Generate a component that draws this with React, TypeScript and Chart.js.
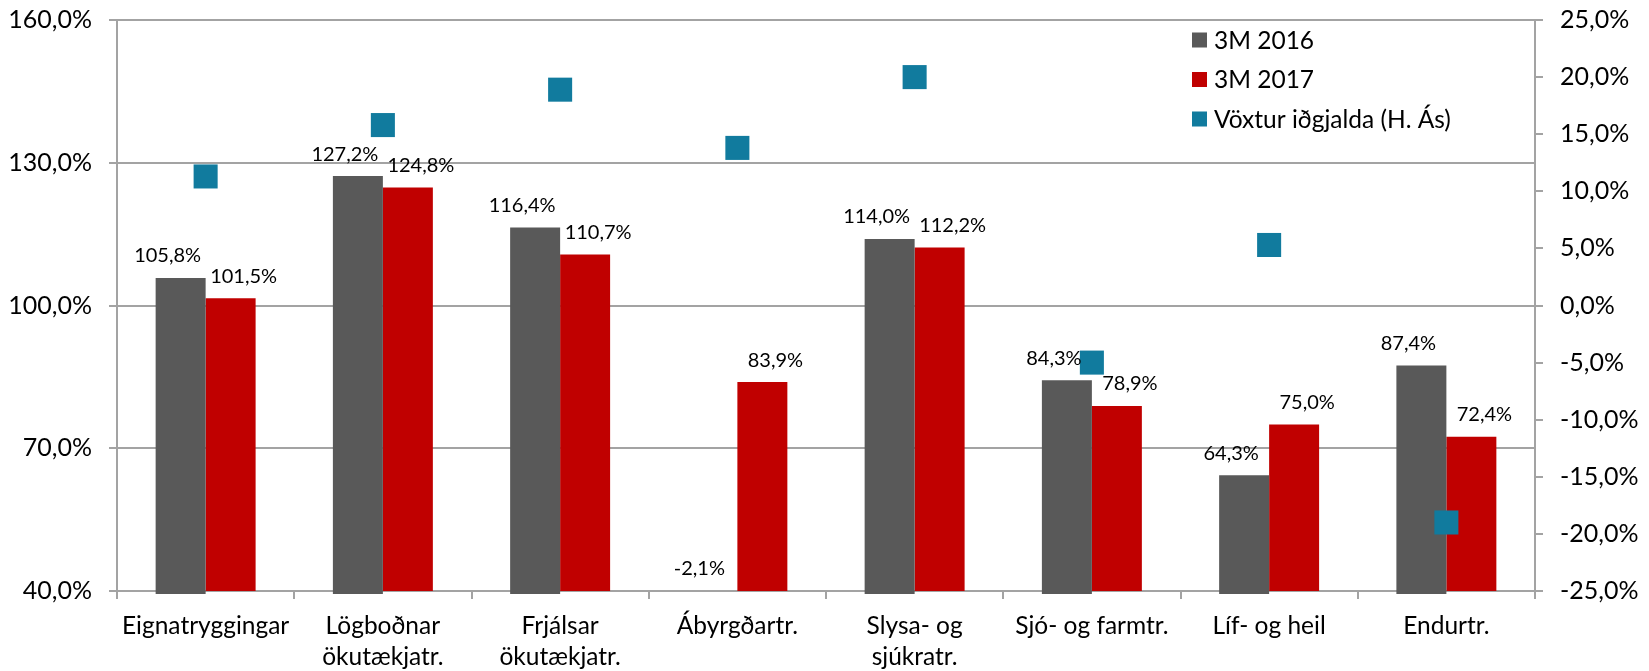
import React, { useEffect, useRef } from "react";
import { Chart, registerables } from "chart.js";

Chart.register(...registerables);

const categories: (string | string[])[] = [
  "Eignatryggingar",
  ["Lögboðnar", "ökutækjatr."],
  ["Frjálsar", "ökutækjatr."],
  "Ábyrgðartr.",
  ["Slysa- og", "sjúkratr."],
  "Sjó- og farmtr.",
  "Líf- og heil",
  "Endurtr.",
];

const series2016 = [105.8, 127.2, 116.4, -2.1, 114.0, 84.3, 64.3, 87.4];
const series2017 = [101.5, 124.8, 110.7, 83.9, 112.2, 78.9, 75.0, 72.4];
const growth = [11.3, 15.8, 18.9, 13.8, 20.0, -5.0, 5.3, -19.0];

const seriesLabels = ["3M 2016", "3M 2017", "Vöxtur iðgjalda (H. Ás)"];
const seriesColors = ["#595959", "#C00000", "#117B9E"];

const leftMin = 40, leftMax = 160, leftStep = 30;
const rightMin = -25, rightMax = 25, rightStep = 5;

const FONT = "Lato, 'Open Sans', sans-serif";
const GRID = "#A3A3A3";

const fmt = (v: number) => v.toFixed(1).replace(".", ",") + "%";

const barLabelPlugin = {
  id: "barLabels",
  afterDatasetsDraw(chart: any) {
    const ctx = chart.ctx;
    const yScale = chart.scales.y;
    const offsets = [-13, 13];
    ctx.save();
    ctx.font = `20px ${FONT}`;
    ctx.fillStyle = "#000";
    ctx.textAlign = "center";
    ctx.textBaseline = "middle";
    [0, 1].forEach((di) => {
      const meta = chart.getDatasetMeta(di);
      const data = chart.data.datasets[di].data as number[];
      meta.data.forEach((bar: any, i: number) => {
        const v = data[i];
        const top = Math.min(bar.y, yScale.getPixelForValue(Math.max(v, leftMin)));
        ctx.fillText(fmt(v), bar.x + offsets[di], top - 22);
      });
    });
    ctx.restore();
  },
};

const legendPlugin = {
  id: "insideLegend",
  afterDraw(chart: any) {
    const ctx = chart.ctx;
    ctx.save();
    ctx.font = `24.5px ${FONT}`;
    ctx.textBaseline = "middle";
    ctx.textAlign = "left";
    chart.data.datasets.forEach((ds: any, i: number) => {
      const y = 40 + i * 39.5;
      ctx.fillStyle = seriesColors[i];
      ctx.fillRect(1192, y - 7.5, 15, 15);
      ctx.fillStyle = "#000";
      ctx.fillText(ds.label, 1214, y + 1);
    });
    ctx.restore();
  },
};

const noPad = (s: any) => {
  s.paddingTop = 0;
  s.paddingBottom = 0;
  s.paddingLeft = 0;
  s.paddingRight = 0;
};

export default function App() {
  const ref = useRef<HTMLCanvasElement>(null);

  useEffect(() => {
    document.body.style.margin = "0";
    const canvas = ref.current!;
    const chart = new Chart(canvas, {
      type: "bar",
      data: {
        labels: categories as any,
        datasets: [
          {
            type: "bar",
            label: seriesLabels[0],
            data: series2016,
            backgroundColor: seriesColors[0],
            yAxisID: "y",
            order: 2,
            clip: { left: false, right: false, top: 0, bottom: 3 } as any,
          },
          {
            type: "bar",
            label: seriesLabels[1],
            data: series2017,
            backgroundColor: seriesColors[1],
            yAxisID: "y",
            order: 2,
          },
          {
            type: "line",
            label: seriesLabels[2],
            data: growth,
            showLine: false,
            pointStyle: "rect",
            pointRadius: 17,
            pointBorderWidth: 0,
            pointBackgroundColor: seriesColors[2],
            pointBorderColor: seriesColors[2],
            backgroundColor: seriesColors[2],
            borderColor: seriesColors[2],
            yAxisID: "y2",
            order: 1,
          } as any,
        ],
      },
      options: {
        responsive: false,
        animation: false,
        devicePixelRatio: 1,
        layout: { padding: { top: 20, left: 0, right: 0, bottom: 0 } },
        datasets: { bar: { categoryPercentage: 0.564, barPercentage: 1.0 } },
        plugins: {
          legend: { display: false },
          tooltip: { enabled: false },
        },
        scales: {
          x: {
            offset: true,
            grid: {
              display: true,
              drawOnChartArea: false,
              offset: true,
              tickLength: 8,
              color: GRID,
              lineWidth: 2,
            },
            border: { display: true, color: GRID, width: 2 },
            ticks: {
              color: "#000",
              padding: 12,
              maxRotation: 0,
              autoSkip: false,
              font: { family: FONT, size: 24.5, lineHeight: 1.25 },
            },
            afterFit: (s: any) => {
              s.height = 80;
              noPad(s);
            },
          },
          y: {
            position: "left",
            min: leftMin,
            max: leftMax,
            grid: { color: GRID, lineWidth: 2, tickLength: 8 },
            border: { display: true, color: GRID, width: 2 },
            ticks: {
              stepSize: leftStep,
              color: "#000",
              padding: 17,
              font: { family: FONT, size: 25 },
              callback: (v: any) => fmt(Number(v)),
            },
            afterFit: (s: any) => {
              s.width = 117;
              noPad(s);
            },
          },
          y2: {
            position: "right",
            min: rightMin,
            max: rightMax,
            grid: { drawOnChartArea: false, color: GRID, lineWidth: 2, tickLength: 8 },
            border: { display: true, color: GRID, width: 2 },
            ticks: {
              stepSize: rightStep,
              color: "#000",
              padding: 17,
              font: { family: FONT, size: 25 },
              callback: (v: any) => fmt(Number(v)),
            },
            afterFit: (s: any) => {
              s.width = 114;
              noPad(s);
            },
          },
        },
      },
      plugins: [barLabelPlugin, legendPlugin],
    });
    return () => chart.destroy();
  }, []);

  return (
    <div style={{ width: 1649, height: 671, background: "#fff" }}>
      <canvas ref={ref} width={1649} height={671} style={{ display: "block" }} />
    </div>
  );
}
